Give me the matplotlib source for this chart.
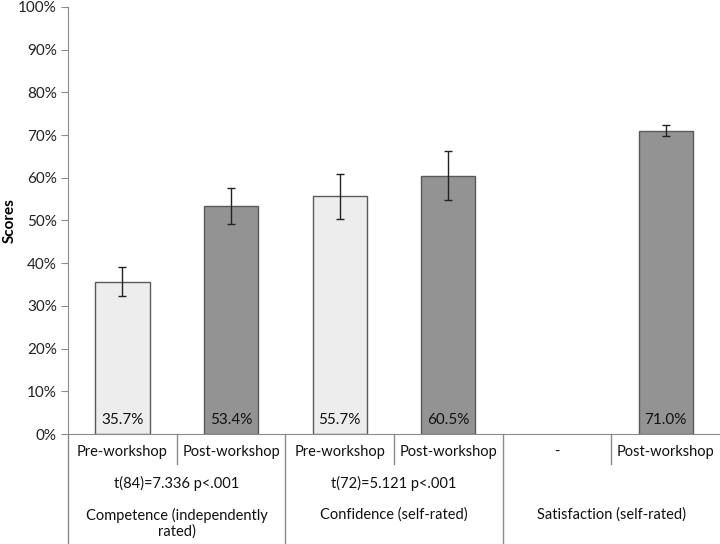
import numpy as np
import matplotlib.pyplot as plt
from matplotlib.transforms import blended_transform_factory

# data
conditions = ['Pre-workshop', 'Post-workshop', 'Pre-workshop', 'Post-workshop', '-', 'Post-workshop']
scores = [35.7, 53.4, 55.7, 60.5, np.nan, 71.0]
errors = [3.3, 4.2, 5.3, 5.7, 0, 1.3]
is_post = [False, True, False, True, False, True]
groups = ['Competence (independently\nrated)', 'Confidence (self-rated)', 'Satisfaction (self-rated)']
stats = ['t(84)=7.336 p<.001', 't(72)=5.121 p<.001', '']

plt.rcParams['font.family'] = ['Lato', 'DejaVu Sans']

fig = plt.figure(figsize=(7.2, 5.44), dpi=100)
ax = fig.add_axes([68/720, 110/544, 652/720, 427/544])

edge = '#5a5a5a'
line_col = '#8c8c8c'
fs = 11
fs_cat = 10.5
x = np.arange(len(scores))
for i in x:
    if np.isnan(scores[i]):
        continue
    ax.bar(i, scores[i], width=0.5, color='#939393' if is_post[i] else '#ededed',
           edgecolor=edge, linewidth=1.0, zorder=2)
    ax.errorbar(i, scores[i], yerr=errors[i], color='#222222', capsize=3,
                elinewidth=1.0, capthick=1.0, zorder=3)
    ax.text(i, 3.3, '%.1f%%' % scores[i], ha='center', va='center', fontsize=fs, color='#111111', zorder=4)

ax.set_xlim(-0.5, len(scores) - 0.5)
ax.set_ylim(0, 100)
ax.set_yticks(np.arange(0, 101, 10))
ax.set_yticklabels(['%d%%' % v for v in range(0, 101, 10)], fontsize=fs, color='#222222')
ax.set_xticks([])
ax.tick_params(axis='y', direction='out', length=5, color=line_col, pad=3)
for s in ['top', 'right']:
    ax.spines[s].set_visible(False)
for s in ['left', 'bottom']:
    ax.spines[s].set_color(line_col)
ax.set_ylabel('Scores', fontsize=fs, fontweight='bold')
ax.yaxis.set_label_coords(-0.078, 0.5)

# category table below the axis
tr = blended_transform_factory(ax.transData, ax.transAxes)
for i, lab in enumerate(conditions):
    ax.text(i, -0.042, lab, transform=tr, ha='center', va='center', fontsize=fs_cat, color='#111111')
for k in range(1, len(scores)):
    bottom = -0.258 if k % 2 == 0 else -0.070
    ax.plot([k - 0.5, k - 0.5], [0, bottom], transform=tr, color=line_col, lw=1.0, clip_on=False)
ax.plot([-0.5, -0.5], [0, -0.258], transform=tr, color=line_col, lw=1.0, clip_on=False)
for g in range(len(groups)):
    ax.text(2 * g + 0.5, -0.117, stats[g], transform=tr, ha='center', va='center', fontsize=fs_cat, color='#111111')
    ax.text(2 * g + 0.5, -0.172, groups[g], transform=tr, ha='center', va='top', fontsize=fs_cat,
            color='#111111', linespacing=1.2)

fig.savefig('out.png', dpi=100)
